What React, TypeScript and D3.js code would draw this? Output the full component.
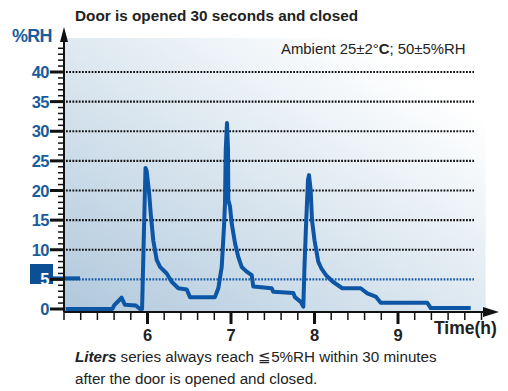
import React from "react";
import * as d3 from "d3";

const hours = [5.02, 5.58, 5.6, 5.69, 5.73, 5.86, 5.91, 5.935, 5.952, 5.976, 5.99, 6.02, 6.038, 6.069, 6.11, 6.15, 6.23, 6.29, 6.369, 6.47, 6.509, 6.808, 6.848, 6.889, 6.916, 6.928, 6.937, 6.952, 6.964, 6.968, 6.988, 7.008, 7.048, 7.087, 7.128, 7.188, 7.248, 7.267, 7.487, 7.507, 7.746, 7.766, 7.835, 7.866, 7.88, 7.898, 7.922, 7.934, 7.954, 7.97, 8.0, 8.045, 8.084, 8.144, 8.22, 8.333, 8.553, 8.632, 8.733, 8.793, 9.351, 9.392, 9.871];
const rh = [0, 0, 0.6, 1.9, 0.7, 0.6, 0, 0, 10, 23.8, 23.3, 19.5, 16.2, 11.6, 8.3, 7.1, 6.0, 4.6, 3.5, 3.3, 2.0, 2.0, 3.5, 7.1, 13.9, 17.8, 26.8, 31.4, 27.1, 18.4, 17.3, 14.5, 11.1, 8.8, 7.1, 6.3, 5.7, 3.8, 3.5, 2.9, 2.7, 2.0, 1.2, 0.4, 7.1, 13.9, 21.8, 22.6, 20.1, 15, 11.6, 8.0, 6.8, 5.6, 4.6, 3.5, 3.5, 2.65, 2.1, 1.06, 1.06, 0.15, 0.15];

const yTicks = [0, 5, 10, 15, 20, 25, 30, 35, 40];
const gridValues = [10, 15, 20, 25, 30, 35, 40];
const xTickLabels = [6, 7, 8, 9];

const title = "Door is opened 30 seconds and closed";
const footLine2 = "after the door is opened and closed.";

export default function App() {
  const x = d3.scaleLinear().domain([5, 10]).range([64, 481.5]);
  const y = d3.scaleLinear().domain([0, 40]).range([309, 72]);
  const line = d3
    .line<number>()
    .x((_, i) => x(hours[i]))
    .y((d) => y(d));

  const minorY = d3.range(0, 45, 1);
  const minorX = d3.range(5, 10.05, 0.2);
  const blue = "#1a5c9c";
  const dark = "#222";

  return (
    <svg
      width={508}
      height={391}
      style={{ position: "absolute", left: 0, top: 0, fontFamily: "Liberation Sans, Arial, sans-serif" }}
    >
      <defs>
        <linearGradient id="bg" x1="0" y1="1" x2="1" y2="0">
          <stop offset="0" stopColor="#b0c8dc" />
          <stop offset="0.45" stopColor="#dae6ef" />
          <stop offset="0.85" stopColor="#ffffff" />
        </linearGradient>
      </defs>
      <rect x={0} y={0} width={508} height={391} fill="#fff" />
      <rect x={x(5)} y={38} width={x(10.05) - x(5)} height={y(0) + 3 - 38} fill="url(#bg)" />

      <text x={75} y={21} fontSize={15.3} fontWeight="bold" fill={dark}>
        {title}
      </text>
      <text x={12} y={42} fontSize={18} fontWeight="bold" fill={blue} letterSpacing={-0.8}>
        %RH
      </text>
      <text x={281} y={54} fontSize={14.9} fill={dark}>
        Ambient 25±2°<tspan fontWeight="bold">C</tspan>; 50±5%RH
      </text>

      {gridValues.map((v) => (
        <line
          key={v}
          x1={x(5) + 2}
          x2={474}
          y1={y(v)}
          y2={y(v)}
          stroke="#111"
          strokeWidth={2.2}
          strokeDasharray="1.8,1.4"
        />
      ))}
      <line x1={x(5) + 2} x2={474} y1={y(5)} y2={y(5)} stroke="#1a5ca8" strokeWidth={2.2} strokeDasharray="1.8,1.4" />

      <rect x={30} y={264} width={23} height={20} fill="#0d4f94" />
      <line x1={53} x2={80} y1={y(5) - 1} y2={y(5) - 1} stroke="#0d55a0" strokeWidth={4} />

      {minorY.map((v) => (
        <line key={"my" + v} x1={58} x2={x(5)} y1={y(v)} y2={y(v)} stroke="#111" strokeWidth={1.5} />
      ))}
      {yTicks.map((v) => (
        <line key={"Y" + v} x1={50} x2={x(5)} y1={y(v)} y2={y(v)} stroke="#111" strokeWidth={3} />
      ))}
      {yTicks.map((v) => (
        <text
          key={"yl" + v}
          x={49}
          y={y(v) + 6}
          textAnchor="end"
          fontSize={16.5}
          fontWeight="bold"
          fill={v === 5 ? "#fff" : blue}
          letterSpacing={-0.5}
        >
          {v}
        </text>
      ))}

      <line x1={x(5)} x2={x(5)} y1={y(0) + 3} y2={34} stroke="#111" strokeWidth={2} />
      <path d={`M${x(5) - 4},42 L${x(5)},27 L${x(5) + 4},42 Z`} fill="#111" />

      {minorX.map((v, i) => (
        <line key={"mx" + i} x1={x(v)} x2={x(v)} y1={312} y2={320} stroke="#111" strokeWidth={1.5} />
      ))}
      {xTickLabels.map((v) => (
        <line key={"X" + v} x1={x(v)} x2={x(v)} y1={312} y2={324} stroke="#111" strokeWidth={3} />
      ))}
      {xTickLabels.map((v) => (
        <text key={"xl" + v} x={x(v)} y={341} textAnchor="middle" fontSize={16.5} fontWeight="bold" fill={dark}>
          {v}
        </text>
      ))}
      <line x1={x(5)} x2={490} y1={312} y2={312} stroke="#111" strokeWidth={2} />
      <path d="M483,307 L499,312 L483,317 Z" fill="#111" />
      <text x={434} y={334} fontSize={17.5} fontWeight="bold" fill={dark}>
        Time(h)
      </text>

      <path d={line(rh) || ""} fill="none" stroke="#0d55a5" strokeWidth={4} strokeLinejoin="round" />

      <text x={75} y={362} fontSize={15.2} fill={dark}>
        <tspan fontWeight="bold" fontStyle="italic">Liters</tspan> series always reach ≦5%RH within 30 minutes
      </text>
      <text x={75} y={384} fontSize={15.2} fill={dark}>
        {footLine2}
      </text>
    </svg>
  );
}
